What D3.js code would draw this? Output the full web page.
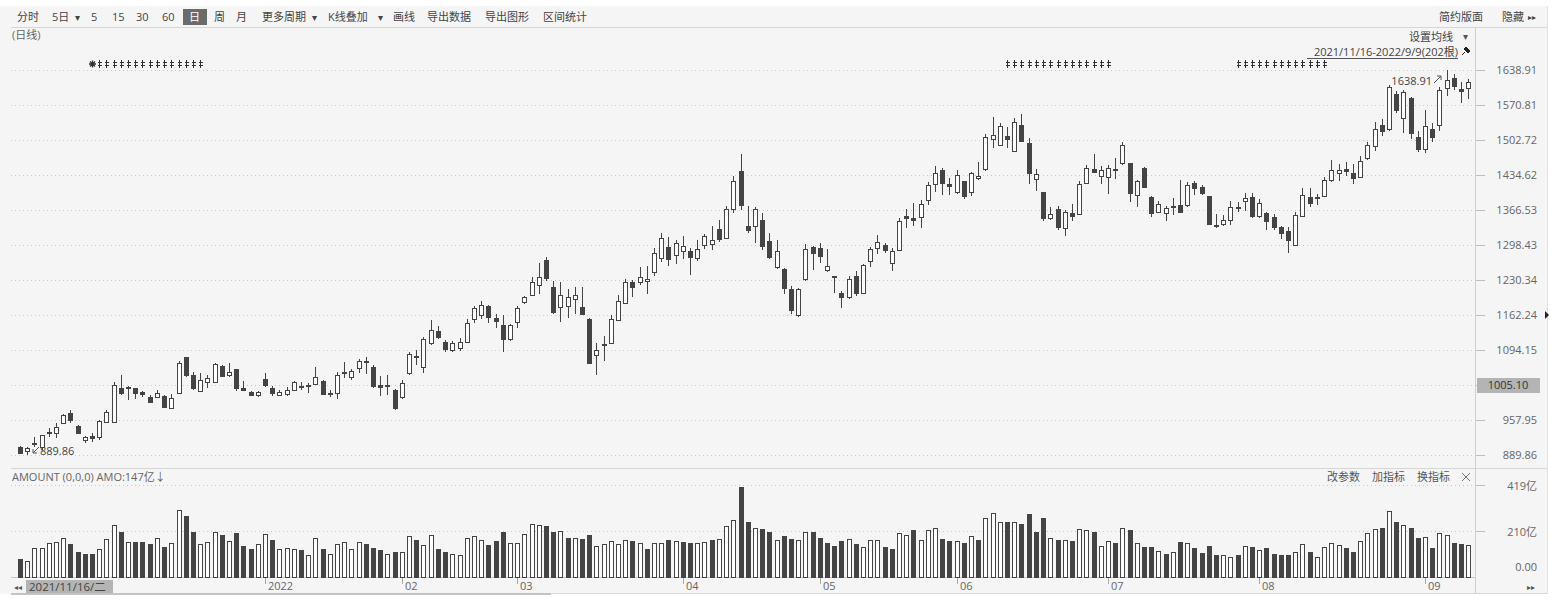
<!DOCTYPE html>
<meta charset="utf-8">
<head>
	<title>日线 K线图</title>
</head>

<style>
body {
	margin: 0;
	background: #fff;
}
svg {
	display: block;
	font-family: "Open Sans", "Noto Sans CJK SC", sans-serif;
}
text {
	font-size: 11px;
	fill: #666;
}
.tb text {
	fill: #444;
}
</style>

<body>
<svg id="chart" width="1560" height="603"></svg>

<script src="https://cdnjs.cloudflare.com/ajax/libs/d3/7.8.5/d3.min.js"></script>
<script>

// trading days, 2021/11/16 - 2022/9/9 (202根)
var tradeDays = [
	["2021-11", [16,17,18,19,22,23,24,25,26,29,30]],
	["2021-12", [1,2,3,6,7,8,9,10,13,14,15,16,17,20,21,22,23,24,27,28,29,30,31]],
	["2022-01", [4,5,6,7,10,11,12,13,14,17,18,19,20,21,24,25,26,27,28]],
	["2022-02", [7,8,9,10,11,14,15,16,17,18,21,22,23,24,25,28]],
	["2022-03", [1,2,3,4,7,8,9,10,11,14,15,16,17,18,21,22,23,24,25,28,29,30,31]],
	["2022-04", [1,6,7,8,11,12,13,14,15,18,19,20,21,22,25,26,27,28,29]],
	["2022-05", [5,6,9,10,11,12,13,16,17,18,19,20,23,24,25,26,27,30,31]],
	["2022-06", [1,2,6,7,8,9,10,13,14,15,16,17,20,21,22,23,24,27,28,29,30]],
	["2022-07", [1,4,5,6,7,8,11,12,13,14,15,18,19,20,21,22,25,26,27,28,29]],
	["2022-08", [1,2,3,4,5,8,9,10,11,12,15,16,17,18,19,22,23,24,25,26,29,30,31]],
	["2022-09", [1,2,5,6,7,8,9]]
];

var open = [906,897,914,905,935,932,952,971,946,919,926,924,955,955,1020,1023,1020,1012,1003,1003,
	1005,982,1011,1081,1045,1015,1032,1032,1063,1045,1057,1020,1013,1007,1037,1020,1007,1008,1017,1025,
	1025,1028,1034,1010,1011,1050,1042,1060,1072,1062,1026,1026,1016,1002,1049,1083,1062,1107,1131,1110,
	1095,1098,1110,1154,1163,1179,1156,1143,1115,1148,1188,1202,1220,1270,1217,1177,1180,1194,1178,1154,
	1084,1105,1108,1153,1185,1227,1227,1229,1245,1274,1294,1279,1286,1286,1273,1298,1300,1329,1313,1369,
	1443,1335,1336,1348,1307,1255,1251,1212,1162,1232,1295,1292,1250,1238,1206,1197,1238,1206,1268,1292,
	1299,1264,1289,1355,1350,1352,1386,1418,1444,1418,1402,1422,1402,1428,1446,1505,1493,1511,1482,1532,
	1496,1426,1402,1350,1368,1331,1361,1359,1420,1446,1432,1430,1446,1457,1457,1395,1448,1392,1363,1361,
	1374,1376,1376,1420,1411,1394,1337,1339,1348,1372,1385,1391,1355,1360,1352,1333,1326,1299,1355,1392,
	1391,1394,1424,1439,1446,1439,1431,1467,1491,1532,1525,1592,1546,1584,1509,1486,1525,1532,1604,1624,
	1601,1603];
var high = [907,905,925,929,943,952,970,977,948,926,932,958,977,1032,1045,1025,1021,1015,1006,1017,
	1007,1009,1073,1081,1051,1050,1046,1069,1065,1069,1058,1033,1015,1015,1050,1025,1016,1022,1034,1032,
	1030,1062,1036,1016,1052,1071,1058,1077,1081,1064,1044,1045,1018,1035,1091,1095,1119,1153,1140,1113,
	1111,1117,1155,1180,1189,1182,1164,1163,1145,1180,1200,1236,1263,1276,1228,1227,1212,1216,1217,1157,
	1107,1122,1162,1201,1232,1231,1255,1257,1292,1321,1314,1309,1315,1293,1308,1320,1335,1348,1374,1432,
	1476,1374,1372,1361,1322,1309,1254,1218,1214,1300,1296,1303,1290,1238,1208,1238,1247,1262,1294,1317,
	1302,1292,1350,1369,1381,1386,1421,1452,1449,1428,1445,1422,1441,1459,1515,1548,1535,1528,1545,1553,
	1506,1446,1402,1372,1374,1367,1378,1423,1454,1476,1452,1454,1467,1499,1458,1425,1450,1393,1385,1374,
	1390,1425,1421,1423,1415,1394,1359,1357,1384,1382,1400,1400,1387,1362,1359,1336,1334,1363,1409,1410,
	1398,1430,1464,1456,1459,1456,1471,1498,1537,1544,1609,1598,1600,1586,1521,1562,1536,1605,1638.91,1631,
	1616,1622];
var low = [892,889.86,906,899,925,923,950,953,931,913,916,919,953,953,1006,997,999,1003,991,1000,
	982,980,1009,1041,1017,1013,1021,1030,1042,1042,1015,1015,1005,1002,1023,1005,1004,1005,1015,1017,
	1011,1026,1006,1003,998,1040,1036,1050,1048,1021,1004,1006,977,998,1045,1065,1050,1104,1115,1090,
	1090,1092,1108,1146,1155,1146,1137,1091,1112,1137,1183,1200,1204,1229,1164,1149,1156,1165,1163,1069,
	1045,1072,1107,1152,1183,1198,1220,1203,1239,1266,1258,1262,1271,1241,1267,1291,1288,1304,1311,1360,
	1367,1322,1303,1289,1271,1252,1204,1164,1158,1228,1250,1263,1246,1206,1176,1194,1199,1204,1256,1280,
	1282,1247,1286,1331,1336,1332,1376,1402,1396,1396,1397,1388,1394,1424,1442,1487,1493,1488,1480,1498,
	1417,1403,1346,1348,1328,1315,1345,1357,1418,1439,1417,1398,1426,1455,1382,1373,1410,1352,1360,1346,
	1357,1361,1372,1396,1396,1337,1331,1336,1338,1363,1364,1350,1350,1328,1328,1311,1283,1297,1353,1372,
	1377,1392,1421,1422,1433,1417,1428,1464,1481,1510,1520,1555,1517,1505,1480,1478,1499,1521,1588,1600,
	1574,1583];
var close = [894,904,912,929,932,944,968,957,933,925,923,956,974,1026,1011,1020,1010,1008,993,1010,
	984,1000,1069,1045,1020,1036,1039,1067,1044,1052,1020,1017,1007,1013,1026,1011,1013,1016,1032,1024,
	1027,1041,1008,1011,1045,1051,1054,1073,1070,1024,1022,1024,981,1029,1086,1081,1115,1133,1119,1097,
	1107,1109,1146,1175,1182,1158,1150,1115,1143,1175,1198,1227,1237,1235,1169,1201,1198,1202,1164,1069,
	1095,1103,1154,1190,1227,1217,1237,1233,1283,1313,1271,1302,1296,1276,1290,1316,1309,1311,1368,1422,
	1377,1327,1368,1296,1275,1287,1214,1172,1212,1290,1282,1277,1258,1236,1198,1232,1206,1260,1290,1305,
	1288,1286,1345,1350,1348,1378,1415,1439,1420,1414,1435,1394,1438,1433,1509,1512,1529,1504,1538,1500,
	1438,1436,1350,1358,1333,1363,1355,1417,1448,1441,1444,1448,1444,1493,1399,1423,1412,1360,1378,1370,
	1375,1363,1415,1409,1400,1339,1336,1348,1373,1370,1389,1355,1380,1346,1333,1322,1309,1357,1396,1381,
	1389,1424,1444,1445,1442,1428,1462,1493,1525,1521,1606,1561,1597,1516,1486,1530,1509,1600,1619,1608,
	1599,1616];
// 成交额 (亿)
var amount = [83,74,131,131,154,161,176,149,116,105,105,127,172,236,205,161,158,158,149,176,
	136,157,305,278,206,149,158,206,190,164,200,142,128,149,196,168,126,131,127,121,
	98,176,128,104,149,161,126,161,149,131,121,105,116,115,188,170,145,190,127,116,
	105,98,176,189,170,145,164,203,157,157,195,240,236,231,205,210,177,177,173,190,
	143,152,164,152,167,164,156,128,156,156,167,164,161,156,156,161,167,172,231,260,
	409,249,222,218,207,167,185,173,167,207,204,178,154,142,164,172,149,136,167,167,
	136,128,200,190,212,169,215,222,173,164,164,154,185,169,267,290,249,249,252,242,
	287,204,267,177,169,169,164,218,215,204,143,164,154,222,212,154,136,136,119,107,
	113,161,154,131,111,143,98,98,90,101,139,136,121,131,105,98,101,113,151,113,
	90,136,154,146,131,116,164,200,218,224,302,249,236,222,177,181,131,202,190,156,
	149,147];

var priceTicks = [889.86, 957.95, 1026.05, 1094.15, 1162.24, 1230.34, 1298.43, 1366.53, 1434.62, 1502.72, 1570.81, 1638.91];
var amountTicks = [0, 210, 419];
var monthNames = ["2022", "02", "03", "04", "05", "06", "07", "08", "09"];
// 事件标记所在的K线区间
var markerSpans = [[10, 25], [137, 151], [169, 181]];
var cursorPrice = "1005.10";
var cursorTick = 1026.05;

var dates = [];
tradeDays.forEach(function(m) {
	m[1].forEach(function(d) { dates.push(m[0] + "-" + (d < 10 ? "0" + d : d)); });
});

var candles = dates.map(function(d, i) {
	return {date: d, i: i, o: open[i], h: high[i], l: low[i], c: close[i], v: amount[i],
		volUp: i === 0 ? close[i] >= open[i] : close[i] >= close[i - 1]};
});

var svg = d3.select("#chart");
var LEFT = 11, AXISX = 1475, RIGHT = 1547;
var DARK = "#444";

// background
svg.append("rect").attr("x", 0).attr("y", 6).attr("width", RIGHT).attr("height", 588).attr("fill", "#f5f5f5");

// scales
var step = 7.205;
var x = d3.scaleBand()
	.domain(dates)
	.range([20 - step / 2, 20 + step * (dates.length - 0.5)])
	.padding(0);
function cx(d) { return Math.round(x(d.date) + x.bandwidth() / 2); }

var y = d3.scaleLinear().domain([889.86, 1638.91]).range([455, 70]);
var yv = d3.scaleLinear().domain([0, 419]).range([577, 485]);

// frame lines
var frame = svg.append("g").attr("stroke", "#d6d6d6").attr("shape-rendering", "crispEdges");
frame.append("line").attr("x1", LEFT).attr("x2", RIGHT).attr("y1", 27.5).attr("y2", 27.5);
frame.append("line").attr("x1", LEFT).attr("x2", RIGHT).attr("y1", 468.5).attr("y2", 468.5);
frame.append("line").attr("x1", LEFT).attr("x2", AXISX).attr("y1", 577.5).attr("y2", 577.5).attr("stroke", "#c8c8c8");
frame.append("line").attr("x1", LEFT).attr("x2", RIGHT).attr("y1", 593.5).attr("y2", 593.5);
frame.append("line").attr("x1", AXISX + 0.5).attr("x2", AXISX + 0.5).attr("y1", 28).attr("y2", 594).attr("stroke", "#cfcfcf");
frame.append("line").attr("x1", RIGHT + 0.5).attr("x2", RIGHT + 0.5).attr("y1", 6).attr("y2", 594).attr("stroke", "#e2e2e2");
// scrollbar
svg.append("rect").attr("x", LEFT).attr("y", 593).attr("width", 540).attr("height", 2).attr("fill", "#c4c4c4");

// price grid + axis
var pg = svg.append("g");
pg.selectAll("line.grid").data(priceTicks).enter().append("line")
	.attr("x1", LEFT).attr("x2", AXISX)
	.attr("y1", function(d) { return Math.round(y(d)) + 0.5; })
	.attr("y2", function(d) { return Math.round(y(d)) + 0.5; })
	.attr("stroke", "#c9c9c9").attr("stroke-dasharray", "1,3");
pg.selectAll("line.tick").data(priceTicks).enter().append("line")
	.attr("x1", AXISX + 1).attr("x2", AXISX + 10)
	.attr("y1", function(d) { return Math.round(y(d)) + 0.5; })
	.attr("y2", function(d) { return Math.round(y(d)) + 0.5; })
	.attr("stroke", "#bdbdbd");
// the 1026.05 label sits under the cursor price box
pg.selectAll("text").data(priceTicks.filter(function(d) { return d !== cursorTick; })).enter().append("text")
	.attr("x", 1537).attr("y", function(d) { return y(d) + 4; })
	.attr("text-anchor", "end")
	.text(function(d) { return d.toFixed(2); });

// cursor price box
var boxY = Math.round(y(cursorTick));
svg.append("rect").attr("x", 1477).attr("y", boxY - 7).attr("width", 63).attr("height", 15).attr("fill", "#b4b4b4");
svg.append("text").attr("x", 1508).attr("y", boxY + 4).attr("text-anchor", "middle").style("fill", "#333").text(cursorPrice);
var triY = Math.round(y(priceTicks[4]));
svg.append("path").attr("d", "M1545," + (triY - 4) + " L1549," + triY + " L1545," + (triY + 4) + " Z").attr("fill", "#222");

// volume grid + axis
var vg = svg.append("g");
vg.selectAll("line.grid").data(amountTicks.slice(1)).enter().append("line")
	.attr("x1", LEFT).attr("x2", AXISX)
	.attr("y1", function(d) { return Math.round(yv(d)) + 0.5; })
	.attr("y2", function(d) { return Math.round(yv(d)) + 0.5; })
	.attr("stroke", "#c9c9c9").attr("stroke-dasharray", "1,3");
vg.selectAll("line.tick").data(amountTicks.slice(1)).enter().append("line")
	.attr("x1", AXISX + 1).attr("x2", AXISX + 10)
	.attr("y1", function(d) { return Math.round(yv(d)) + 0.5; })
	.attr("y2", function(d) { return Math.round(yv(d)) + 0.5; })
	.attr("stroke", "#bdbdbd");
vg.selectAll("text").data(amountTicks).enter().append("text")
	.attr("x", 1537).attr("y", function(d) { return yv(d) + (d === 0 ? -6 : 5); })
	.attr("text-anchor", "end")
	.text(function(d) { return d === 0 ? "0.00" : d + "亿"; });

// candles
var cg = svg.append("g").attr("shape-rendering", "crispEdges");
var cand = cg.selectAll("g").data(candles).enter().append("g");
cand.append("line")
	.attr("x1", function(d) { return cx(d) + 0.5; })
	.attr("x2", function(d) { return cx(d) + 0.5; })
	.attr("y1", function(d) { return Math.round(y(d.h)); })
	.attr("y2", function(d) { return Math.round(y(d.l)); })
	.attr("stroke", DARK);
cand.append("rect")
	.attr("x", function(d) { return cx(d) - 1.5; })
	.attr("y", function(d) { return Math.round(y(Math.max(d.o, d.c))) + 0.5; })
	.attr("width", 4)
	.attr("height", function(d) {
		return Math.max(1, Math.round(y(Math.min(d.o, d.c))) - Math.round(y(Math.max(d.o, d.c))));
	})
	.attr("fill", function(d) { return d.c >= d.o ? "#fff" : DARK; })
	.attr("stroke", DARK);

// volume bars
var bg = svg.append("g").attr("shape-rendering", "crispEdges");
bg.selectAll("rect").data(candles).enter().append("rect")
	.attr("x", function(d) { return cx(d) - 1.5; })
	.attr("y", function(d) { return Math.round(yv(d.v)) + 0.5; })
	.attr("width", 4)
	.attr("height", function(d) { return 577 - Math.round(yv(d.v)) - 0.5; })
	.attr("fill", function(d) { return d.volUp ? "#fff" : DARK; })
	.attr("stroke", DARK);

// max / min labels
var maxC = candles.reduce(function(a, b) { return b.h > a.h ? b : a; });
var minC = candles.reduce(function(a, b) { return b.l < a.l ? b : a; });
var mx = cx(maxC), my = y(maxC.h);
svg.append("text").attr("x", mx - 15).attr("y", my + 15).attr("text-anchor", "end").style("fill", "#444").text(maxC.h.toFixed(2));
svg.append("path").attr("d", "M" + (mx - 13) + "," + (my + 13) + " L" + (mx - 6) + "," + (my + 6)
	+ " M" + (mx - 10) + "," + (my + 6) + " L" + (mx - 6) + "," + (my + 6) + " L" + (mx - 6) + "," + (my + 10))
	.attr("stroke", "#555").attr("fill", "none");
var nx = cx(minC), ny = y(minC.l);
svg.append("text").attr("x", nx + 13).attr("y", ny).attr("text-anchor", "start").style("fill", "#444").text(minC.l.toFixed(2));
svg.append("path").attr("d", "M" + (nx + 12) + "," + (ny - 8) + " L" + (nx + 6) + "," + (ny - 2)
	+ " M" + (nx + 6) + "," + (ny - 6) + " L" + (nx + 6) + "," + (ny - 2) + " L" + (nx + 10) + "," + (ny - 2))
	.attr("stroke", "#555").attr("fill", "none");

// event markers
var mk = svg.append("g").attr("stroke", "#333").attr("fill", "none").attr("shape-rendering", "crispEdges");
markerSpans.forEach(function(s, k) {
	d3.range(s[0], s[1] + 1).forEach(function(i, j) {
		var px = cx(candles[i]) + 0.5;
		if (k === 0 && j === 0) {
			// asterisk
			mk.append("path").attr("shape-rendering", "auto")
				.attr("d", "M" + px + ",60.5 V67.5 M" + (px - 3.5) + ",64 H" + (px + 3.5)
					+ " M" + (px - 2.5) + ",61.5 L" + (px + 2.5) + ",66.5 M" + (px + 2.5) + ",61.5 L" + (px - 2.5) + ",66.5")
				.attr("stroke-width", 1.3);
			return;
		}
		mk.append("path").attr("d", "M" + px + ",60 V68 M" + (px - 2) + ",62.5 H" + (px + 2.5) + " M" + (px - 2) + ",65.5 H" + (px + 2.5));
	});
});

// x axis: month starts from 2022 on (Dec sits under the date box)
var monthStarts = [];
dates.forEach(function(d, i) {
	if (i > 0 && d.slice(0, 7) !== dates[i - 1].slice(0, 7) && d >= "2022") monthStarts.push(candles[i]);
});
var xa = svg.append("g");
xa.selectAll("line").data(monthStarts).enter().append("line")
	.attr("x1", function(d) { return cx(d) + 0.5; })
	.attr("x2", function(d) { return cx(d) + 0.5; })
	.attr("y1", 578).attr("y2", 584)
	.attr("stroke", "#aaa");
xa.selectAll("text").data(monthStarts).enter().append("text")
	.attr("x", function(d) { return cx(d) + 3; })
	.attr("y", 590)
	.text(function(d, i) { return monthNames[i]; });
svg.append("rect").attr("x", 26).attr("y", 580).attr("width", 87).attr("height", 13).attr("fill", "#b4b4b4");
svg.append("text").attr("x", 29).attr("y", 591).style("fill", "#444").style("font-size", "11.5px").text("2021/11/16/二");
svg.append("text").attr("x", 14).attr("y", 590).style("font-size", "8px").style("fill", "#555").text("◂◂");
svg.append("text").attr("x", 1527).attr("y", 590).style("font-size", "8px").style("fill", "#555").text("▸▸");

// toolbar
var tb = svg.append("g").attr("class", "tb");
svg.insert("rect", ".tb").attr("x", 183).attr("y", 9).attr("width", 24).attr("height", 16).attr("fill", "#6b6b6b");
var items = [["分时", 17], ["5日", 52], ["▾", 75], ["5", 91], ["15", 112], ["30", 136], ["60", 162],
	["日", 189], ["周", 214], ["月", 236], ["更多周期", 262], ["▾", 312], ["K线叠加", 328], ["▾", 378],
	["画线", 393], ["导出数据", 427], ["导出图形", 485], ["区间统计", 543]];
items.forEach(function(t) {
	var el = tb.append("text").attr("x", t[1]).attr("y", 21).text(t[0]);
	if (t[0] === "日") el.style("fill", "#fff");
	if (t[0] === "▾") el.style("font-size", "10px");
});
tb.append("text").attr("x", 1483).attr("y", 21).attr("text-anchor", "end").text("简约版面");
tb.append("text").attr("x", 1502).attr("y", 21).text("隐藏");
tb.append("text").attr("x", 1528).attr("y", 20).style("font-size", "8px").text("▸▸");

svg.append("text").attr("x", 12).attr("y", 39).text("(日线)");
svg.append("text").attr("x", 1453).attr("y", 41).attr("text-anchor", "end").style("fill", "#444").text("设置均线");
svg.append("text").attr("x", 1463).attr("y", 40).style("fill", "#555").style("font-size", "10px").text("▾");
svg.append("text").attr("x", 1458).attr("y", 56).attr("text-anchor", "end").style("fill", "#444")
	.text(dates[0].replace(/-0?/g, "/") + "-" + dates[dates.length - 1].replace(/-0?/g, "/") + "(" + dates.length + "根)");
svg.append("line").attr("x1", 1307).attr("x2", 1458).attr("y1", 58.5).attr("y2", 58.5).attr("stroke", "#555");
svg.append("path").attr("d", "M1466,47 L1470,51 L1468,53 L1464,49 Z M1465,52 L1462,55").attr("stroke", "#222").attr("fill", "#222");

// volume caption
svg.append("text").attr("x", 12).attr("y", 481).text("AMOUNT (0,0,0) AMO:" + amount[amount.length - 1] + "亿↓");
var vt = [["改参数", 1327], ["加指标", 1372], ["换指标", 1417]];
vt.forEach(function(t) {
	svg.append("text").attr("x", t[1]).attr("y", 481).style("fill", "#555").text(t[0]);
});
svg.append("path").attr("d", "M1462,473 L1470,481 M1470,473 L1462,481").attr("stroke", "#777");

</script>
</body>
</html>
